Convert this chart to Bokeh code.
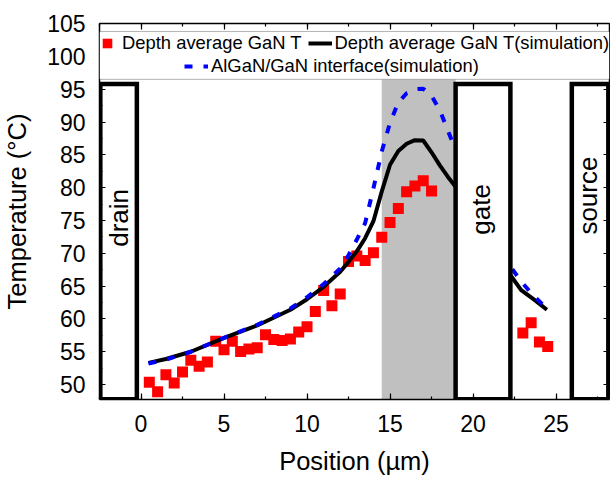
import math
from bokeh.plotting import figure
from bokeh.models import (Range1d, LinearAxis, SingleIntervalTicker, Legend,
                          LegendItem, BoxAnnotation)
from bokeh.core.properties import value
from bokeh.embed import file_html
from bokeh.resources import INLINE

# ---- data ----
meas_x = [0.5, 1.0, 1.5, 2.0, 2.5, 3.0, 3.5, 4.0, 4.5, 5.0,
          5.5, 6.0, 6.5, 7.0, 7.5, 8.0, 8.5, 9.0, 9.5, 10.0,
          10.5, 11.0, 11.5, 12.0, 12.5, 13.0, 13.5, 14.0, 14.5, 15.0,
          15.5, 16.0, 16.5, 17.0, 17.5,
          23.0, 23.5, 24.0, 24.5]
meas_y = [50.35, 48.9, 51.5, 50.25, 51.9, 53.7, 52.8, 53.45, 56.6, 55.3,
          56.6, 55.05, 55.4, 55.6, 57.6, 56.85, 56.7, 56.95, 58.0, 58.8,
          61.15, 64.35, 62.0, 63.8, 68.75, 69.6, 68.9, 70.1, 72.45, 74.7,
          76.85, 79.4, 80.25, 81.05, 79.5,
          57.85, 59.4, 56.5, 55.8]

sim_gan_x = [0.45, 1.5, 3.0, 5.0, 7.0, 9.0, 10.0, 11.0, 12.0, 12.5,
             13.0, 13.5, 14.0, 14.5, 15.0, 15.5, 16.0, 16.5, 17.0, 17.5,
             18.0, 18.5, 19.0, 20.0, 21.0, 22.3, 22.9, 23.7, 24.45]
sim_gan_y = [53.3, 53.9, 55.0, 57.1, 59.0, 61.4, 63.0, 64.9, 67.2, 68.7,
             70.3, 72.3, 74.9, 79.4, 83.5, 85.6, 86.7, 87.25, 87.2, 85.4,
             83.4, 81.6, 80.0, 75.5, 71.0, 66.5, 64.4, 62.9, 61.4]

sim_if_x = [0.45, 1.5, 3.0, 5.0, 7.0, 9.0, 10.0, 11.0, 12.0, 12.5,
            13.0, 13.5, 14.0, 14.5, 15.0, 15.5, 16.0, 16.5, 17.0, 17.5,
            18.0, 18.5, 19.0, 20.0, 21.0, 22.3, 23.0, 23.7, 24.4]
sim_if_y = [53.2, 53.8, 55.0, 57.1, 59.1, 61.6, 63.3, 65.3, 67.7, 69.7,
            72.1, 74.6, 79.9, 85.5, 89.9, 93.0, 94.4, 95.0, 95.1, 94.0,
            91.8, 88.6, 85.5, 78.5, 72.5, 67.8, 65.4, 63.4, 61.7]

electrode_names = ["drain", "gate", "source"]
electrode_left = [-2.45, 18.95, 25.95]
electrode_right = [-0.25, 22.25, 28.15]
electrode_top = [95.8, 95.8, 95.8]
electrode_bottom = [47.75, 47.75, 47.75]
electrode_label_x = [-1.35, 20.5, 26.95]
electrode_label_y = [75.4, 76.7, 78.8]

shade_left, shade_right = 14.5, 18.95

legend_labels = ["Depth average GaN T",
                 "Depth average GaN T(simulation)",
                 "AlGaN/GaN interface(simulation)"]

FONT = "Liberation Sans"

p = figure(width=610, height=477,
           x_range=Range1d(-2.5, 28.22), y_range=Range1d(47.72, 105.03),
           output_backend="svg", toolbar_location=None,
           min_border_left=98, min_border_right=1,
           min_border_top=23, min_border_bottom=77)
p.xgrid.visible = False
p.ygrid.visible = False
p.outline_line_color = None
p.background_fill_color = "white"
p.border_fill_color = "white"

# gray shaded area
p.add_layout(BoxAnnotation(left=shade_left, right=shade_right, bottom=47.72, top=96.5,
                           fill_color="#c0c0c0", fill_alpha=1.0, line_color=None,
                           level="underlay"))

r_meas = p.scatter(meas_x, meas_y, marker="square", size=11,
                   fill_color="#ff0000", line_color=None)
r_gan = p.line(sim_gan_x, sim_gan_y, line_color="black", line_width=4)
r_if = p.line(sim_if_x, sim_if_y, line_color="#0000ff", line_width=4,
              line_dash="8 11", line_cap="butt")

p.quad(left=electrode_left, right=electrode_right, top=electrode_top,
       bottom=electrode_bottom, fill_color="white", line_color="black",
       line_width=4.5, line_join="miter")
p.text(x=electrode_label_x, y=electrode_label_y, text=electrode_names,
       angle=math.pi / 2, text_align="center", text_baseline="middle",
       text_font=value(FONT), text_font_size="26px", text_color="black")

# legend band
p.add_layout(BoxAnnotation(left=-2.5, right=28.22, bottom=96.52, top=103.82,
                           fill_color="white", fill_alpha=1.0,
                           line_color="black", line_width=1))

def style_axis(ax, labels=True):
    ax.ticker = SingleIntervalTicker(interval=5, num_minor_ticks=2)
    ax.major_tick_in = 6
    ax.major_tick_out = 0
    ax.minor_tick_in = 3
    ax.minor_tick_out = 0
    ax.axis_line_width = 1.5
    ax.axis_line_color = "black"
    ax.major_tick_line_color = "black"
    ax.minor_tick_line_color = "black"
    ax.major_tick_line_width = 1.2
    ax.minor_tick_line_width = 1.2
    if labels:
        ax.major_label_text_font = FONT
        ax.major_label_text_font_size = "23px"
        ax.major_label_text_color = "black"
        ax.axis_label_text_font = FONT
        ax.axis_label_text_font_size = "25.5px"
        ax.axis_label_text_font_style = "normal"
        ax.axis_label_text_color = "black"
    else:
        ax.major_label_text_color = None
        ax.major_label_text_alpha = 0
        ax.major_label_text_font_size = "1px"
        ax.major_label_standoff = 0

xa = p.xaxis[0]
ya = p.yaxis[0]
style_axis(xa)
style_axis(ya)
xa.axis_label = "Position (µm)"
ya.axis_label = "Temperature (°C)"
xa.major_label_standoff = 15
xa.axis_label_standoff = 12
ya.major_label_standoff = 14
ya.axis_label_standoff = 13

top_ax = LinearAxis()
style_axis(top_ax, labels=False)
p.add_layout(top_ax, "above")
right_ax = LinearAxis()
style_axis(right_ax, labels=False)
p.add_layout(right_ax, "right")

def make_legend(items, loc):
    return Legend(items=items, location=loc, orientation="horizontal",
                  border_line_color=None, background_fill_alpha=0,
                  padding=0, margin=0, spacing=6, glyph_width=24, glyph_height=24,
                  label_standoff=3, label_height=24,
                  label_text_font=FONT, label_text_font_size="18.4px",
                  label_text_color="black")

leg1 = make_legend([LegendItem(label=legend_labels[0], renderers=[r_meas]),
                    LegendItem(label=legend_labels[1], renderers=[r_gan])], (-4, 344))
leg2 = make_legend([LegendItem(label=legend_labels[2], renderers=[r_if])], (85, 321))
p.add_layout(leg1)
p.add_layout(leg2)

open("out.html", "w").write(file_html(p, INLINE))
